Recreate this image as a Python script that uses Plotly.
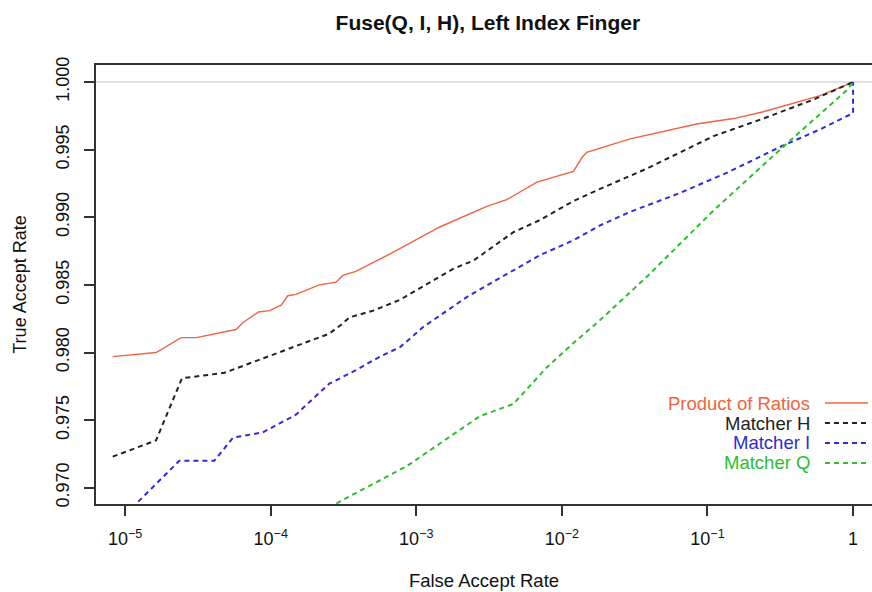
import math
import plotly.graph_objects as go

# ---- data ----
far_prod = [8.22e-6, 1.63e-5, 2.43e-5, 3.08e-5, 5.78e-5, 6.43e-5, 8.24e-5, 9.8e-5, 1.18e-4, 1.31e-4,
            1.49e-4, 2.16e-4, 2.81e-4, 3.13e-4, 3.85e-4, 6.61e-4, 1.46e-3, 3.05e-3, 4.18e-3, 6.73e-3,
            0.0120, 0.0137, 0.0148, 0.0183, 0.0294, 0.0843, 0.151, 0.242, 0.410, 0.593, 0.98, 1.0]
tar_prod = [0.9797, 0.9800, 0.9811, 0.9811, 0.9817, 0.9822, 0.9830, 0.9831, 0.9835, 0.9842,
            0.9843, 0.9850, 0.9852, 0.9857, 0.9860, 0.9873, 0.9893, 0.9908, 0.9913, 0.9926,
            0.9934, 0.9944, 0.9948, 0.9951, 0.9958, 0.9969, 0.9973, 0.9978, 0.9985, 0.9990, 0.99995, 1.0]

far_h = [8.22e-6, 1.63e-5, 2.46e-5, 4.81e-5, 6.78e-5, 1.49e-4, 2.53e-4, 3.0e-4, 3.48e-4, 5.07e-4,
         7.74e-4, 1.80e-3, 2.47e-3, 4.65e-3, 7.08e-3, 0.0120, 0.0183, 0.0383, 0.110, 0.242, 0.533, 1.0]
tar_h = [0.9723, 0.9735, 0.9781, 0.9785, 0.9791, 0.9805, 0.9814, 0.9820, 0.9826, 0.9831,
         0.9839, 0.9862, 0.9868, 0.9889, 0.9898, 0.9912, 0.9921, 0.9936, 0.9960, 0.9973, 0.9987, 1.0]

far_i = [8.22e-6, 1.19e-5, 2.36e-5, 4.10e-5, 5.50e-5, 8.83e-5, 1.49e-4, 2.05e-4, 2.53e-4, 3.0e-4,
         3.85e-4, 5.64e-4, 7.74e-4, 1.12e-3, 2.22e-3, 4.18e-3, 7.08e-3, 0.0120, 0.0183, 0.0294,
         0.0649, 0.143, 0.315, 0.593, 0.98, 1.0, 1.0]
tar_i = [0.9671, 0.9688, 0.9720, 0.9720, 0.9737, 0.9741, 0.9754, 0.9768, 0.9777, 0.9781,
         0.9787, 0.9797, 0.9804, 0.9819, 0.9841, 0.9858, 0.9872, 0.9883, 0.9894, 0.9904,
         0.9918, 0.9934, 0.9952, 0.9965, 0.9977, 0.9977, 1.0]

far_q = [2.5e-4, 3.0e-4, 8.61e-4, 1.46e-3, 2.74e-3, 4.65e-3, 7.87e-3, 0.0120, 0.0183, 0.0383,
         0.110, 0.315, 0.906, 1.0]
tar_q = [0.9685, 0.9690, 0.9716, 0.9733, 0.9753, 0.9762, 0.9789, 0.9807, 0.9824, 0.9856,
         0.9905, 0.9950, 0.9994, 1.0]

series_names = ["Product of Ratios", "Matcher H", "Matcher I", "Matcher Q"]
colors = ["#EF6440", "#222222", "#2C2CD8", "#2EBE2E"]

x_tickvals = [1e-5, 1e-4, 1e-3, 1e-2, 1e-1, 1]
x_ticktext = ["10<sup>−5</sup>", "10<sup>−4</sup>", "10<sup>−3</sup>", "10<sup>−2</sup>", "10<sup>−1</sup>", "1"]
y_tickvals = [0.970, 0.975, 0.980, 0.985, 0.990, 0.995, 1.000]

FONT = "Liberation Sans, Arial, Helvetica, sans-serif"
DASH = "5px,4px"

fig = go.Figure()

# reference lines (R abline at 1)
fig.add_shape(type="line", xref="x", yref="paper", x0=math.log10(1), x1=math.log10(1), y0=0, y1=1,
              line=dict(color="#D8D8D8", width=1.5), layer="below")
fig.add_shape(type="line", xref="paper", yref="y", x0=0, x1=1, y0=1.0, y1=1.0,
              line=dict(color="#D8D8D8", width=1.5), layer="below")

data = [(far_prod, tar_prod), (far_h, tar_h), (far_i, tar_i), (far_q, tar_q)]
for k, (xs, ys) in enumerate(data):
    fig.add_trace(go.Scatter(
        x=xs, y=ys, mode="lines", name=series_names[k], showlegend=False,
        line=dict(color=colors[k], width=1.4 if k == 0 else 2.0,
                  dash="solid" if k == 0 else DASH),
    ))

# custom R-style legend: text right-aligned, then line sample
leg_y = [0.230, 0.1845, 0.139, 0.0934]
for k in range(4):
    fig.add_annotation(xref="paper", yref="paper", x=0.9227, y=leg_y[k], xanchor="right",
                       yanchor="middle", text=series_names[k], showarrow=False,
                       font=dict(family=FONT, size=18.5, color=colors[k]))
    fig.add_shape(type="line", xref="paper", yref="paper", x0=0.9394, x1=0.9948,
                  y0=leg_y[k], y1=leg_y[k],
                  line=dict(color=colors[k], width=1.4 if k == 0 else 2.0,
                            dash="solid" if k == 0 else DASH))

fig.update_layout(
    width=872, height=592,
    margin=dict(l=96, r=0, t=65, b=88),
    paper_bgcolor="white", plot_bgcolor="white",
    font=dict(family=FONT, size=18, color="#111111"),
    title=dict(text="<b>Fuse(Q, I, H), Left Index Finger</b>", x=0.505, xref="paper",
               xanchor="center", y=0.962, yref="container", yanchor="middle",
               font=dict(family=FONT, size=21, color="#111111")),
    xaxis=dict(type="log", range=[-5.2, 0.13], tickvals=x_tickvals, ticktext=x_ticktext,
               showgrid=False, zeroline=False, showline=True, linecolor="#333333", linewidth=1.5,
               mirror=True, ticks="outside", ticklen=10, tickwidth=1.5, tickcolor="#333333",
               tickfont=dict(size=18), ticklabelstandoff=8,
               title=dict(text="False Accept Rate", font=dict(size=18.5), standoff=26)),
    yaxis=dict(range=[0.96880, 1.00126], tickvals=y_tickvals, tickformat=".3f",
               showgrid=False, zeroline=False, showline=True, linecolor="#333333", linewidth=1.5,
               ticks="outside", ticklen=10, tickwidth=1.5, tickcolor="#333333",
               tickangle=-90, tickfont=dict(size=18), ticklabelstandoff=8,
               title=dict(text="True Accept Rate", font=dict(size=18), standoff=22)),
)

fig.write_html("out.html")
